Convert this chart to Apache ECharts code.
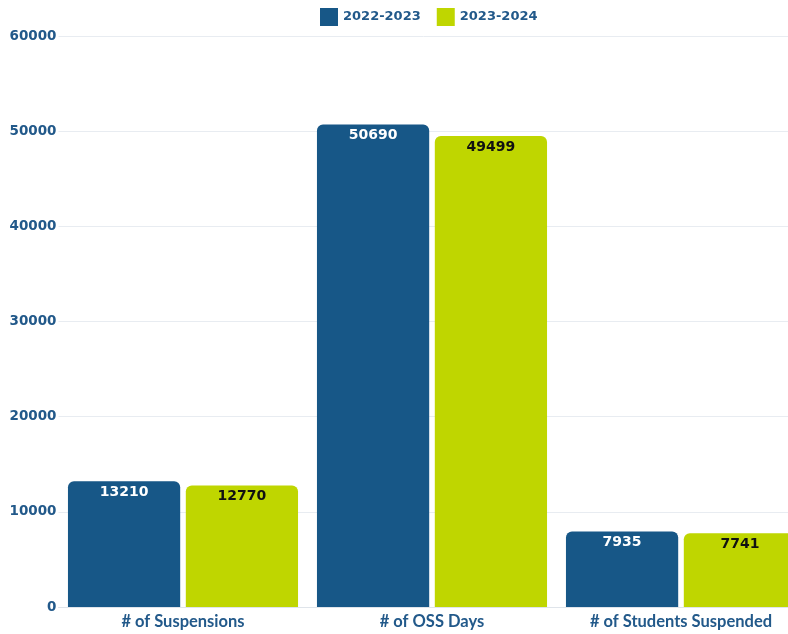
<!DOCTYPE html>
<html>
<head>
<meta charset="utf-8">
<style>
  html, body { margin: 0; padding: 0; background: #ffffff; }
  #chart { width: 788px; height: 634px; }
</style>
<script src="https://cdn.jsdelivr.net/npm/echarts@6/dist/echarts.min.js"></script>
</head>
<body>
<div id="chart"></div>
<script>
// Suspension figures by school year
const categories = ['# of Suspensions', '# of OSS Days', '# of Students Suspended'];
const seriesNames = ['2022-2023', '2023-2024'];
const values2022 = [13210, 50690, 7935];
const values2023 = [12770, 49499, 7741];

const BLUE = '#175787';
const GREEN = '#bfd600';
const TEXT = '#22598a';
const FONT = '"DejaVu Sans", Lato, sans-serif';
const LABEL_FONT = 'Lato, "Open Sans", sans-serif';

const chart = echarts.init(document.getElementById('chart'), null, { renderer: 'canvas' });

chart.setOption({
  animation: false,
  textStyle: { fontFamily: FONT },
  legend: {
    top: 3,
    left: 315,
    itemWidth: 18,
    itemHeight: 18,
    itemGap: 16,
    itemStyle: { borderWidth: 0 },
    icon: 'rect',
    textStyle: { color: TEXT, fontWeight: 'bold', fontSize: 13, fontFamily: FONT },
    data: seriesNames
  },
  grid: {
    left: 58.5, top: 36, right: -17.5, bottom: 27,
    containLabel: false, outerBoundsMode: 'none'
  },
  xAxis: {
    type: 'category',
    data: categories,
    axisTick: { show: false },
    axisLine: { show: true, lineStyle: { color: '#dfe4ea', width: 1 } },
    axisLabel: { color: TEXT, fontWeight: 'bold', fontSize: 16.5, margin: 6, fontFamily: LABEL_FONT }
  },
  yAxis: {
    type: 'value',
    min: 0,
    max: 60000,
    interval: 10000,
    axisLine: { show: false },
    axisTick: { show: false },
    axisLabel: {
      color: TEXT, fontWeight: 'bold', fontSize: 13.5, margin: 2, fontFamily: FONT,
      formatter: function (v) { return String(v); }
    },
    splitLine: { lineStyle: { color: '#e8ecf1', width: 1 } }
  },
  series: [
    {
      name: seriesNames[0],
      type: 'bar',
      data: values2022,
      barGap: '5%',
      barCategoryGap: '7.6%',
      itemStyle: { color: BLUE, borderRadius: [6, 6, 0, 0] },
      label: {
        show: true, position: 'insideTop', distance: 4,
        color: '#ffffff', fontWeight: 'bold', fontSize: 14, fontFamily: FONT
      }
    },
    {
      name: seriesNames[1],
      type: 'bar',
      data: values2023,
      itemStyle: { color: GREEN, borderRadius: [6, 6, 0, 0] },
      label: {
        show: true, position: 'insideTop', distance: 4,
        color: '#111111', fontWeight: 'bold', fontSize: 14, fontFamily: FONT
      }
    }
  ]
});
</script>
</body>
</html>
